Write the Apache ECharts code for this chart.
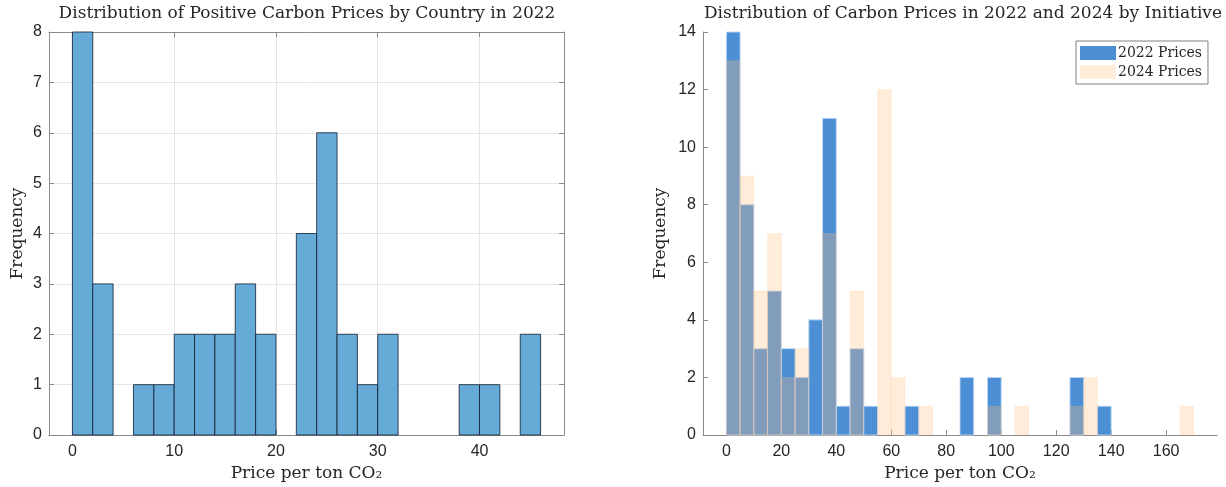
<!DOCTYPE html>
<html>
<head>
<meta charset="utf-8">
<title>Carbon price distributions</title>
<script src="https://cdn.jsdelivr.net/npm/echarts@6.0.0/dist/echarts.min.js"></script>
<style>
html, body { margin: 0; padding: 0; background: #fff; }
#chart { width: 1226px; height: 487px; }
</style>
</head>
<body>
<div id="chart"></div>
<script>
// ==========================
// data
// ==========================
// left: positive carbon prices by country, 2022 (bins of 2, starting at 0)
const countryBinWidth = 2;
const countryCounts = [8, 3, 0, 1, 1, 2, 2, 2, 3, 2, 0, 4, 6, 2, 1, 2, 0, 0, 0, 1, 1, 0, 2];
const countryTicks = [0, 10, 20, 30, 40];

// right: carbon prices by initiative (bins of 5, starting at 0)
const initiativeBinWidth = 5;
const prices2022 = [14, 8, 3, 5, 3, 2, 4, 11, 1, 3, 1, 0, 0, 1, 0, 0, 0, 2, 0, 2, 0, 0, 0, 0, 0, 2, 0, 1, 0, 0, 0, 0, 0, 0];
const prices2024 = [13, 9, 5, 7, 2, 3, 0, 7, 0, 5, 0, 12, 2, 0, 1, 0, 0, 0, 0, 1, 0, 1, 0, 0, 0, 1, 2, 0, 0, 0, 0, 0, 0, 1];
const initiativeTicks = [0, 20, 40, 60, 80, 100, 120, 140, 160];

const seriesNames = ["2022 Prices", "2024 Prices"];

// ==========================
// styles
// ==========================
const serif = "DejaVu Serif";
const sans = "Liberation Sans, Arial, sans-serif";
const ink = "#262626";
const boxColor = "#8a8a8a";
const gridColor = "#e6e6e6";

function toBins(counts, width) {
    return counts.map((c, i) => [i * width, c]);
}

// one rect per bin, from bin start to bin end, through the axis scales
function histBar(width, style) {
    return function (params, api) {
        let start = api.value(0);
        let count = api.value(1);
        if (!count) return null;
        let a = api.coord([start, count]);
        let b = api.coord([start + width, 0]);
        return {
            type: "rect",
            shape: { x: a[0], y: a[1], width: b[0] - a[0], height: b[1] - a[1] },
            style: style
        };
    };
}

function xAxisBase(grid, min, max, ticks) {
    return {
        gridIndex: grid,
        type: "value",
        min: min,
        max: max,
        axisLine: { show: true, onZero: false, lineStyle: { color: boxColor, width: 1 } },
        axisTick: { show: true, inside: true, length: 5, customValues: ticks, lineStyle: { color: boxColor } },
        axisLabel: { customValues: ticks, margin: 9, color: ink, fontFamily: sans, fontSize: 16 },
        splitLine: { show: false },
        nameLocation: "middle",
        nameGap: 30,
        nameTextStyle: { color: ink, fontFamily: serif, fontSize: 17 }
    };
}

function yAxisBase(grid, max, interval) {
    return {
        gridIndex: grid,
        type: "value",
        min: 0,
        max: max,
        interval: interval,
        axisLine: { show: true, onZero: false, lineStyle: { color: boxColor, width: 1 } },
        axisTick: { show: true, inside: true, length: 5, lineStyle: { color: boxColor } },
        axisLabel: { margin: 7, color: ink, fontFamily: sans, fontSize: 16 },
        splitLine: { show: false },
        nameLocation: "middle",
        nameRotate: 90,
        nameTextStyle: { color: ink, fontFamily: serif, fontSize: 17 }
    };
}

// left chart: full box with grid lines
let xLeft = xAxisBase(0, -2.3, 48.3, countryTicks);
xLeft.name = "Price per ton CO\u2082";
xLeft.splitLine = { show: true, lineStyle: { color: gridColor } };
let xLeftTop = xAxisBase(0, -2.3, 48.3, countryTicks);
xLeftTop.position = "top";
xLeftTop.axisLabel = { show: false };

let yLeft = yAxisBase(0, 8, 1);
yLeft.name = "Frequency";
yLeft.nameGap = 23;
yLeft.splitLine = { show: true, lineStyle: { color: gridColor } };
let yLeftRight = yAxisBase(0, 8, 1);
yLeftRight.position = "right";
yLeftRight.axisLabel = { show: false };

// right chart: only left and bottom axes
let xRight = xAxisBase(1, -8.5, 178.5, initiativeTicks);
xRight.name = "Price per ton CO\u2082";
let yRight = yAxisBase(1, 14, 2);
yRight.name = "Frequency";
yRight.nameGap = 34;

let chart = echarts.init(document.getElementById("chart"), null, { renderer: "canvas" });
chart.setOption({
    animation: false,
    backgroundColor: "#fff",
    title: [
        {
            text: "Distribution of Positive Carbon Prices by Country in 2022",
            left: 307, top: 5, padding: 0, textAlign: "center",
            textStyle: { fontFamily: serif, fontSize: 17, fontWeight: "normal", color: ink }
        },
        {
            text: "Distribution of Carbon Prices in 2022 and 2024 by Initiative",
            left: 963, top: 5, padding: 0, textAlign: "center",
            textStyle: { fontFamily: serif, fontSize: 17, fontWeight: "normal", color: ink }
        }
    ],
    legend: {
        data: seriesNames,
        orient: "vertical",
        left: 1076,
        top: 41,
        padding: [5, 6, 5, 4],
        itemGap: 5,
        itemWidth: 36,
        itemHeight: 14,
        icon: "rect",
        borderColor: "#808080",
        borderWidth: 1,
        backgroundColor: "#fff",
        textStyle: { fontFamily: serif, fontSize: 14, color: ink, padding: [0, 0, 0, -3] }
    },
    grid: [
        { left: 49, top: 32, width: 515, height: 404 },
        { left: 703, top: 32, width: 514, height: 404 }
    ],
    xAxis: [xLeft, xLeftTop, xRight],
    yAxis: [yLeft, yLeftRight, yRight],
    series: [
        {
            name: "Countries 2022",
            type: "custom",
            xAxisIndex: 0,
            yAxisIndex: 0,
            clip: false,
            encode: { x: 0, y: 1 },
            data: toBins(countryCounts, countryBinWidth),
            renderItem: histBar(countryBinWidth, { fill: "#66aad7", stroke: "rgba(15,30,45,0.8)", lineWidth: 1 })
        },
        {
            name: seriesNames[0],
            type: "custom",
            xAxisIndex: 2,
            yAxisIndex: 2,
            clip: false,
            encode: { x: 0, y: 1 },
            itemStyle: { color: "#4d8fd4" },
            data: toBins(prices2022, initiativeBinWidth),
            renderItem: histBar(initiativeBinWidth, { fill: "#4d8fd4", stroke: "rgba(190,215,245,0.9)", lineWidth: 1 })
        },
        {
            name: seriesNames[1],
            type: "custom",
            xAxisIndex: 2,
            yAxisIndex: 2,
            clip: false,
            encode: { x: 0, y: 1 },
            itemStyle: { color: "rgba(255,191,128,0.3)" },
            data: toBins(prices2024, initiativeBinWidth),
            renderItem: histBar(initiativeBinWidth, { fill: "rgba(255,191,128,0.3)", stroke: "rgba(255,191,128,0.15)", lineWidth: 1 })
        }
    ]
});
</script>
</body>
</html>
